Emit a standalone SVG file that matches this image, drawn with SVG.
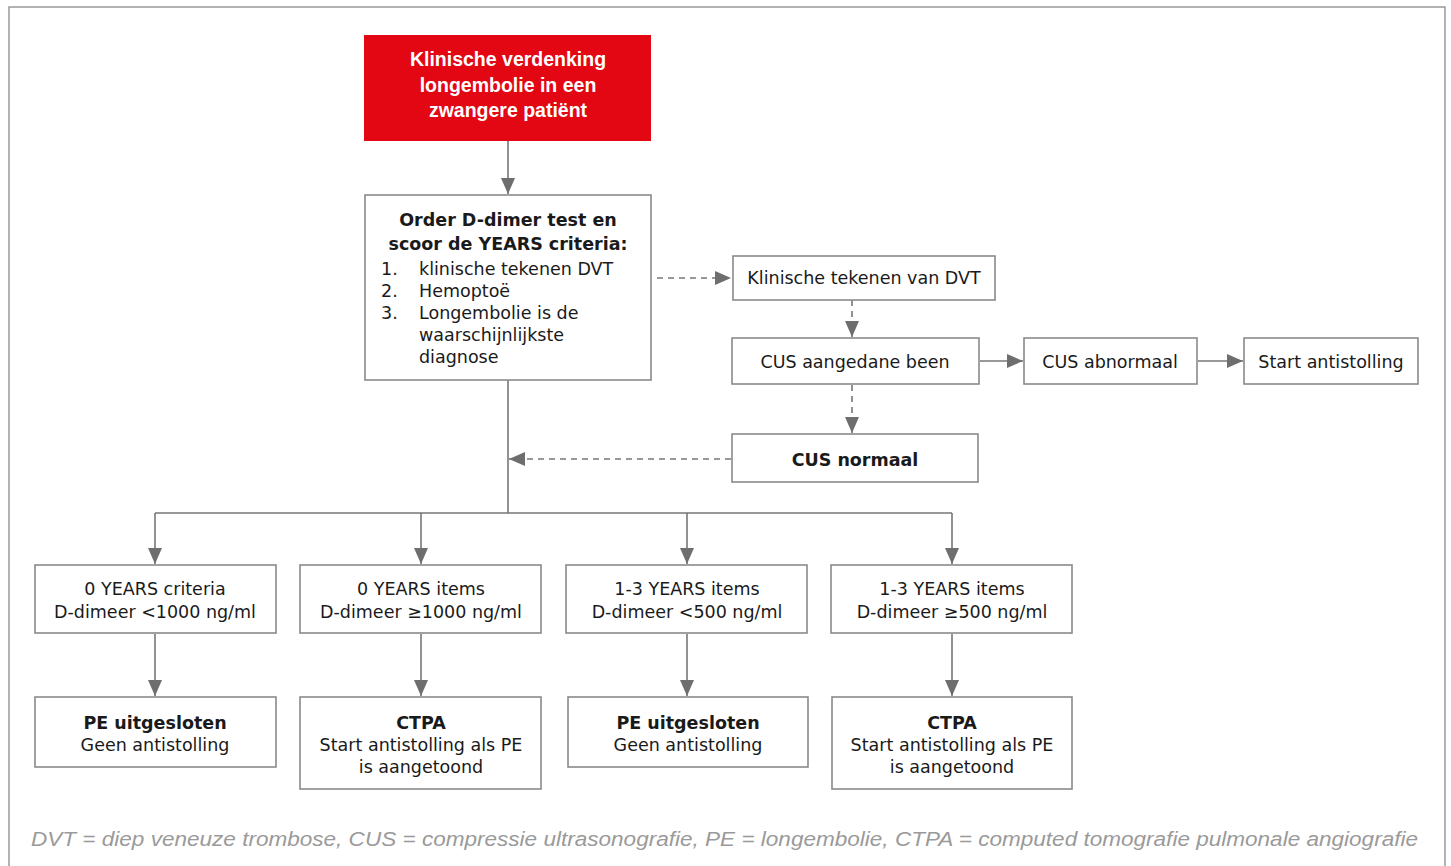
<svg xmlns="http://www.w3.org/2000/svg" width="1451" height="866" viewBox="0 0 1451 866">
<defs>
<style>
.box{fill:#fff;stroke:#8a8a8a;stroke-width:1.6}
.red{fill:#e30613;stroke:none}
.t{font-family:"DejaVu Sans","Liberation Sans",sans-serif;font-size:17.5px;fill:#1a1a1a;text-anchor:middle}
.b{font-weight:bold;font-size:17.5px}
.w{font-family:"Liberation Sans",Arial,sans-serif;fill:#fff;font-weight:bold;font-size:19.5px}
.l{text-anchor:start}
.ln{fill:none;stroke:#777;stroke-width:1.6}
.d{stroke-dasharray:6 5}
.foot{font-family:"Liberation Sans",Arial,sans-serif;font-size:20px;font-style:italic;fill:#9a9a9a}
</style>
<marker id="ah" markerUnits="userSpaceOnUse" markerWidth="16" markerHeight="14" viewBox="0 0 16 14" refX="16" refY="7" orient="auto">
<path d="M0,0 L16,7 L0,14 Z" fill="#6e6e6e"/>
</marker>
</defs>
<rect x="9" y="7" width="1436" height="870" fill="none" stroke="#999" stroke-width="1.5"/>
<g id="connectors">
<path class="ln" d="M508,141 V194" marker-end="url(#ah)"/>
<path class="ln d" d="M657,278 H731" marker-end="url(#ah)"/>
<path class="ln d" d="M852,300 V337" marker-end="url(#ah)"/>
<path class="ln d" d="M852,385 V433" marker-end="url(#ah)"/>
<path class="ln" d="M980,361 H1023" marker-end="url(#ah)"/>
<path class="ln" d="M1198,361 H1243" marker-end="url(#ah)"/>
<path class="ln d" d="M731,459 H509" marker-end="url(#ah)"/>
<path class="ln" d="M508,380 V513 M155,513 H952"/>
<path class="ln" d="M155,513 V564" marker-end="url(#ah)"/>
<path class="ln" d="M421,513 V564" marker-end="url(#ah)"/>
<path class="ln" d="M687,513 V564" marker-end="url(#ah)"/>
<path class="ln" d="M952,513 V564" marker-end="url(#ah)"/>
<path class="ln" d="M155,634 V696" marker-end="url(#ah)"/>
<path class="ln" d="M421,634 V696" marker-end="url(#ah)"/>
<path class="ln" d="M687,634 V696" marker-end="url(#ah)"/>
<path class="ln" d="M952,634 V696" marker-end="url(#ah)"/>
</g>
<g id="start">
<rect class="red" x="364" y="35" width="287" height="106"/>
<text class="t w" x="508" y="66">Klinische verdenking</text>
<text class="t w" x="508" y="92">longembolie in een</text>
<text class="t w" x="508" y="117">zwangere patiënt</text>
</g>
<g id="ddimer">
<rect class="box" x="365" y="195" width="286" height="185"/>
<text class="t b" x="508" y="226">Order D-dimer test en</text>
<text class="t b" x="508" y="250">scoor de YEARS criteria:</text>
<text class="t l" x="381" y="275">1.</text><text class="t l" x="419" y="275">klinische tekenen DVT</text>
<text class="t l" x="381" y="297">2.</text><text class="t l" x="419" y="297">Hemoptoë</text>
<text class="t l" x="381" y="319">3.</text><text class="t l" x="419" y="319">Longembolie is de</text>
<text class="t l" x="419" y="341">waarschijnlijkste</text>
<text class="t l" x="419" y="363">diagnose</text>
</g>
<g id="dvt">
<rect class="box" x="733" y="256" width="262" height="44"/>
<text class="t" x="864" y="284">Klinische tekenen van DVT</text>
</g>
<g id="cus">
<rect class="box" x="732" y="338" width="247" height="46"/>
<text class="t" x="855" y="368">CUS aangedane been</text>
</g>
<g id="cusab">
<rect class="box" x="1024" y="338" width="173" height="46"/>
<text class="t" x="1110" y="368">CUS abnormaal</text>
</g>
<g id="startanti">
<rect class="box" x="1244" y="338" width="174" height="46"/>
<text class="t" x="1331" y="368">Start antistolling</text>
</g>
<g id="cusnormaal">
<rect class="box" x="732" y="434" width="246" height="48"/>
<text class="t b" x="855" y="466">CUS normaal</text>
</g>
<g id="c1">
<rect class="box" x="35" y="565" width="241" height="68"/>
<text class="t" x="155" y="595">0 YEARS criteria</text>
<text class="t" x="155" y="618">D-dimeer &lt;1000 ng/ml</text>
</g>
<g id="c2">
<rect class="box" x="300" y="565" width="241" height="68"/>
<text class="t" x="421" y="595">0 YEARS items</text>
<text class="t" x="421" y="618">D-dimeer ≥1000 ng/ml</text>
</g>
<g id="c3">
<rect class="box" x="566" y="565" width="241" height="68"/>
<text class="t" x="687" y="595">1-3 YEARS items</text>
<text class="t" x="687" y="618">D-dimeer &lt;500 ng/ml</text>
</g>
<g id="c4">
<rect class="box" x="831" y="565" width="241" height="68"/>
<text class="t" x="952" y="595">1-3 YEARS items</text>
<text class="t" x="952" y="618">D-dimeer ≥500 ng/ml</text>
</g>
<g id="r1">
<rect class="box" x="35" y="697" width="241" height="70"/>
<text class="t b" x="155" y="729">PE uitgesloten</text>
<text class="t" x="155" y="751">Geen antistolling</text>
</g>
<g id="r2">
<rect class="box" x="300" y="697" width="241" height="92"/>
<text class="t b" x="421" y="729">CTPA</text>
<text class="t" x="421" y="751">Start antistolling als PE</text>
<text class="t" x="421" y="773">is aangetoond</text>
</g>
<g id="r3">
<rect class="box" x="568" y="697" width="240" height="70"/>
<text class="t b" x="688" y="729">PE uitgesloten</text>
<text class="t" x="688" y="751">Geen antistolling</text>
</g>
<g id="r4">
<rect class="box" x="832" y="697" width="240" height="92"/>
<text class="t b" x="952" y="729">CTPA</text>
<text class="t" x="952" y="751">Start antistolling als PE</text>
<text class="t" x="952" y="773">is aangetoond</text>
</g>
<text class="foot" x="31" y="846" textLength="1387" lengthAdjust="spacingAndGlyphs">DVT = diep veneuze trombose, CUS = compressie ultrasonografie, PE = longembolie, CTPA = computed tomografie pulmonale angiografie</text>
</svg>
